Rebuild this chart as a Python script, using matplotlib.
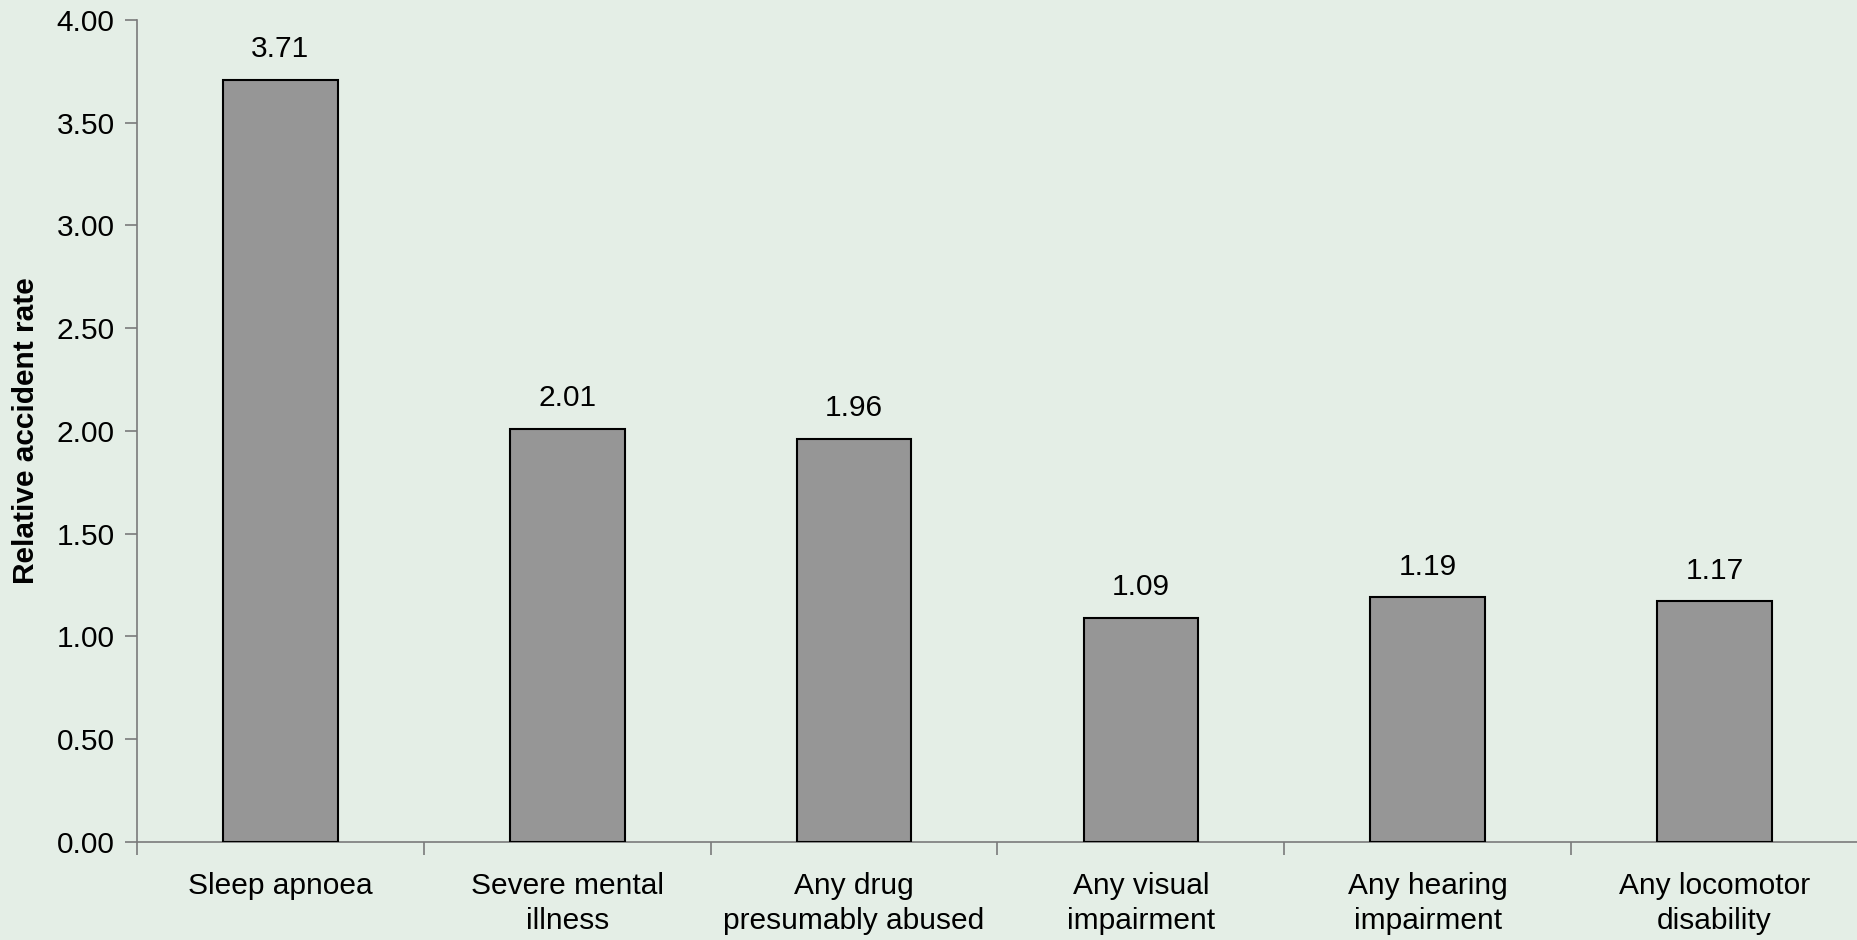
import matplotlib.pyplot as plt
import numpy as np

plt.rcParams['font.family'] = ['Liberation Sans', 'DejaVu Sans']

categories = ['Sleep apnoea', 'Severe mental\nillness', 'Any drug\npresumably abused',
              'Any visual\nimpairment', 'Any hearing\nimpairment', 'Any locomotor\ndisability']
rates = [3.71, 2.01, 1.96, 1.09, 1.19, 1.17]
y_ticks = [0, 0.5, 1.0, 1.5, 2.0, 2.5, 3.0, 3.5, 4.0]

bg = '#e4eee6'
axis_grey = '#7a7a7a'
fs = 21.5

fig = plt.figure(figsize=(18.58, 9.40), dpi=100, facecolor=bg)
ax = fig.add_axes([0.0737, 0.1046, 0.9263, 0.8741], facecolor=bg)

x = np.arange(len(categories))
ax.bar(x, rates, width=0.4, color='#969696', edgecolor='black', linewidth=1.5, zorder=3)

# value labels above each bar
for xi, v in zip(x, rates):
    ax.annotate(f'{v:.2f}', (xi, v), xytext=(0, 12), textcoords='offset points',
                ha='center', va='bottom', fontsize=fs)

ax.set_xlim(-0.5, len(categories) - 0.5)
ax.set_ylim(0, 4.0)
ax.set_yticks(y_ticks)
ax.set_yticklabels([f'{t:.2f}' for t in y_ticks], fontsize=fs)

# category labels centred under bars, tick marks on the boundaries
ax.set_xticks(x)
ax.set_xticklabels(categories, fontsize=fs, linespacing=1.3)
ax.tick_params(axis='x', which='major', length=0, pad=22)
ax.set_xticks(np.arange(-0.5, len(categories)), minor=True)
ax.tick_params(axis='x', which='minor', length=9, width=1.2, color=axis_grey)
ax.tick_params(axis='y', length=9, width=1.2, color=axis_grey, pad=7)

for side in ['top', 'right']:
    ax.spines[side].set_visible(False)
for side in ['left', 'bottom']:
    ax.spines[side].set_color(axis_grey)
    ax.spines[side].set_linewidth(1.2)

ax.set_ylabel('Relative accident rate', fontsize=fs, fontweight='bold', labelpad=12)

fig.savefig('out.png', dpi=100, facecolor=bg)
